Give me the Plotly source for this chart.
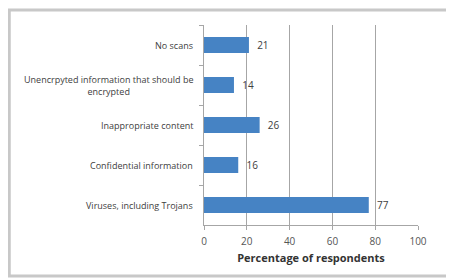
import plotly.graph_objects as go

categories = [
    "No scans",
    "Unencrpyted information that should be<br>encrypted",
    "Inappropriate content",
    "Confidential information",
    "Viruses, including Trojans",
]
values = [21, 14, 26, 16, 77]
x_ticks = [0, 20, 40, 60, 80, 100]

FONT = "Open Sans, Liberation Sans, sans-serif"

fig = go.Figure(
    go.Bar(
        y=categories,
        x=values,
        orientation="h",
        marker=dict(color="#4683c4", line=dict(width=0)),
        width=0.4,
        text=["  " + str(v) for v in values],
        textposition="outside",
        textfont=dict(family=FONT, size=10, color="#404040"),
        cliponaxis=False,
    )
)

annotations = [
    dict(
        x=-0.04,
        y=c,
        xref="paper",
        yref="y",
        text=c,
        showarrow=False,
        xanchor="right",
        yanchor="middle",
        align="center",
        font=dict(family=FONT, size=9, color="#404040"),
    )
    for c in categories
]

fig.update_layout(
    width=446,
    height=272,
    margin=dict(l=196, r=36, t=17, b=55, autoexpand=False),
    paper_bgcolor="white",
    plot_bgcolor="white",
    showlegend=False,
    font=dict(family=FONT, size=9, color="#404040"),
    annotations=annotations,
    xaxis=dict(
        range=[0, 100],
        tickvals=x_ticks,
        showgrid=True,
        gridcolor="#a6a6a6",
        gridwidth=1,
        zeroline=False,
        showline=True,
        linecolor="#a6a6a6",
        ticks="outside",
        ticklen=4,
        tickcolor="#a6a6a6",
        ticklabelstandoff=3,
        tickfont=dict(size=10, color="#555555"),
        title=dict(
            text="<b>Percentage of respondents</b>",
            font=dict(size=11, color="#333333"),
            standoff=7,
        ),
        automargin=False,
    ),
    yaxis=dict(
        autorange="reversed",
        showgrid=False,
        showline=True,
        linecolor="#a6a6a6",
        ticks="outside",
        ticklen=4,
        tickcolor="#a6a6a6",
        tickson="boundaries",
        showticklabels=False,
        automargin=False,
    ),
    shapes=[
        dict(
            type="rect",
            xref="paper",
            yref="paper",
            x0=-0.91,
            x1=1.163,
            y0=-0.255,
            y1=1.075,
            line=dict(color="#c8c8c8", width=3),
            fillcolor="rgba(0,0,0,0)",
            layer="below",
        )
    ],
)

fig.write_html("out.html")
